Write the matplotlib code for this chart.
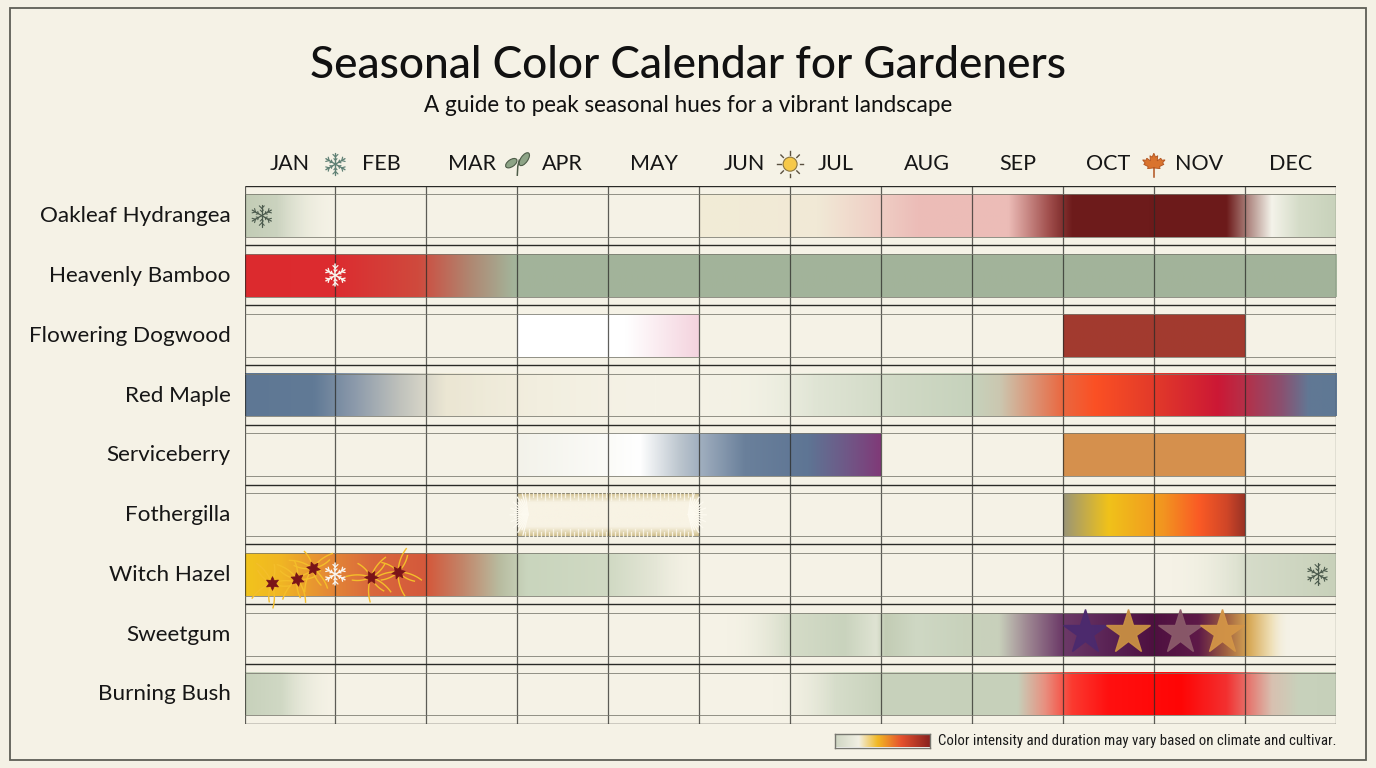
import numpy as np
import matplotlib
matplotlib.use("Agg")
import matplotlib.pyplot as plt
from matplotlib import font_manager
from matplotlib.colors import to_rgb, LinearSegmentedColormap
from matplotlib.patches import Rectangle, Circle, Ellipse, Polygon

# ---------------- data ----------------
months = ["JAN", "FEB", "MAR", "APR", "MAY", "JUN", "JUL", "AUG", "SEP", "OCT", "NOV", "DEC"]
plants = ["Oakleaf Hydrangea", "Heavenly Bamboo", "Flowering Dogwood", "Red Maple",
          "Serviceberry", "Fothergilla", "Witch Hazel", "Sweetgum", "Burning Bush"]

# colour stops per plant: list of segments, each a list of (month position, colour, alpha)
oakleaf_hydrangea = [
    [(0.0, "#c2ccb5", 1), (0.35, "#cbd3bf", 1), (1.0, "#f3f1e4", 0)],
    [(5.0, "#f2ecd6", 1), (6.3, "#f1e9d6", 1), (7.0, "#efcdc4", 1), (7.4, "#ecbdb8", 1),
     (8.4, "#ecbcb7", 1), (8.85, "#a04e4c", 1), (9.1, "#6e1c1c", 1), (10.8, "#6c1a1a", 1),
     (11.05, "#b08a84", 1), (11.3, "#f4f3ea", 1), (11.6, "#d5dcc8", 1), (12.0, "#c8d2bb", 1)],
]
heavenly_bamboo = [
    [(0.0, "#dd2a2e", 1), (1.0, "#dc2c30", 1), (1.9, "#cf4a3d", 1), (2.45, "#b08570", 1),
     (2.95, "#a3b49a", 1), (12.0, "#a2b39a", 1)],
]
flowering_dogwood = [
    [(3.0, "#ffffff", 1), (4.2, "#ffffff", 1), (5.0, "#f4d3de", 1)],
    [(9.0, "#a33a2f", 1), (11.0, "#a23b2f", 1)],
]
red_maple = [
    [(0.0, "#5e7794", 1), (0.75, "#617a96", 1), (1.2, "#8c9aab", 1), (1.7, "#c0c2bc", 1),
     (2.2, "#ebe6d3", 1), (3.2, "#f1eddc", 0.7), (4.5, "#f3f0e2", 0.0), (5.5, "#eef0e2", 0.3),
     (6.3, "#dfe4d4", 1), (7.2, "#d0d9c5", 1), (8.0, "#c6d2bc", 1), (8.3, "#cbc7b0", 1),
     (8.7, "#dd8f70", 1), (9.0, "#ea673f", 1), (9.35, "#fb5024", 1), (10.0, "#e23a2a", 1),
     (10.7, "#cc1835", 1), (11.0, "#b53049", 1), (11.4, "#8a5070", 1), (11.7, "#617895", 1),
     (12.0, "#5f7894", 1)],
]
serviceberry = [
    [(3.0, "#f3f2ea", 1), (4.0, "#fbfbf8", 1), (4.35, "#ffffff", 1), (4.8, "#bac4cd", 1),
     (5.0, "#a2b0c0", 1), (5.5, "#6a809b", 1), (6.2, "#5e7594", 1), (6.6, "#6e5a88", 1),
     (7.0, "#803a78", 1)],
    [(9.0, "#d5904d", 1), (11.0, "#d6914e", 1)],
]
fothergilla = [
    [(9.0, "#9a9577", 1), (9.5, "#f0c21a", 1), (10.1, "#f29520", 1), (10.5, "#fa5a25", 1),
     (10.8, "#d04628", 1), (11.0, "#9a3325", 1)],
]
witch_hazel = [
    [(0.0, "#f2c41c", 1), (0.4, "#f0b524", 1), (0.9, "#e58a35", 1), (1.4, "#d9683c", 1),
     (2.0, "#d4583b", 1), (2.4, "#c2866a", 1), (2.8, "#b8bca0", 1), (3.1, "#c9d5bd", 1),
     (4.0, "#d0d9c3", 1), (4.5, "#e4e6d6", 1), (5.0, "#f3f1e4", 0)],
    [(10.2, "#f3f1e4", 0), (10.9, "#dfe3d2", 1), (11.0, "#d6dcca", 1), (12.0, "#c8d1ba", 1)],
]
sweetgum = [
    [(5.3, "#f3f1e4", 0), (6.0, "#d5dcc8", 1), (6.6, "#c9d3bd", 1), (6.95, "#dfe3d3", 1),
     (7.05, "#c2ccb4", 1), (7.4, "#cfd8c4", 1), (7.9, "#c8d2bc", 1), (8.3, "#c8d0bb", 1),
     (8.6, "#a08a94", 1), (9.0, "#6c3a68", 1), (9.5, "#5a2355", 1), (10.0, "#4e1040", 1),
     (10.5, "#5e1a48", 1), (10.8, "#a06040", 1), (11.05, "#d7a855", 1), (11.3, "#efe0b8", 1),
     (11.5, "#f3f1e4", 0)],
]
burning_bush = [
    [(0.0, "#c7d1bb", 1), (0.4, "#d0d8c4", 1), (1.0, "#f3f1e4", 0)],
    [(5.8, "#f3f1e4", 0), (6.5, "#d6ddca", 1), (7.0, "#c8d2bc", 1), (8.5, "#c6d0ba", 1),
     (8.8, "#e89080", 1), (9.1, "#fb3a30", 1), (9.5, "#ff1010", 1), (10.3, "#ff0505", 1),
     (10.8, "#f33030", 1), (11.3, "#d8c0b0", 1), (11.6, "#c8d2bc", 1), (12.0, "#c6d0ba", 1)],
]
plant_stops = [oakleaf_hydrangea, heavenly_bamboo, flowering_dogwood, red_maple,
               serviceberry, fothergilla, witch_hazel, sweetgum, burning_bush]

# Fothergilla spring bottlebrush bloom (months)
fothergilla_bloom = (3.0, 5.0)

# decorations: (month position, row position)
snowflakes_dark = [(0.19, 0.5), (11.8, 6.5)]
snowflakes_white = [(1.0, 1.5), (1.0, 6.5)]
witch_flowers = [(0.30, 6.65), (0.58, 6.58), (0.75, 6.40), (1.39, 6.55), (1.69, 6.46)]
sweetgum_stars = [9.24, 9.72, 10.29, 10.75]
star_colors = ["#4b2a6e", "#c99043", "#8a5a6a", "#d39547"]
header_icons = {"snow": 1, "sprout": 3, "sun": 6, "leaf": 10}

legend_pos = [0.0, 0.25, 0.45, 0.7, 1.0]
legend_cols = ["#cfd6c3", "#f1efe3", "#f2b824", "#e5502e", "#8a2220"]

title = "Seasonal Color Calendar for Gardeners"
subtitle = "A guide to peak seasonal hues for a vibrant landscape"
footnote = "Color intensity and duration may vary based on climate and cultivar."

# ---------------- fonts ----------------
avail = {f.name for f in font_manager.fontManager.ttflist}
def pick(cands):
    for c in cands:
        if c in avail:
            return c
    return "DejaVu Sans"
MAIN = pick(["Lato", "Open Sans", "Noto Sans", "DejaVu Sans"])
NARROW = pick(["Liberation Sans Narrow", "Roboto Condensed", "Open Sans Condensed", "Lato", "DejaVu Sans"])

BG = "#f4f1e5"
W, H = 1376, 768
fig = plt.figure(figsize=(W / 100, H / 100), dpi=100, facecolor=BG)

# outer frame
frame = fig.add_axes([0, 0, 1, 1], zorder=0)
frame.set_xlim(0, W); frame.set_ylim(0, H); frame.axis("off")
frame.add_patch(Rectangle((10, 8), W - 20, H - 16, fill=True, facecolor="#f5f2e6",
                          edgecolor="#5e5e56", lw=1.3))

GL, GR, GT, GB = 244.5, 1335.7, 185.7, 723.7
ax = fig.add_axes([GL / W, 1 - GB / H, (GR - GL) / W, (GB - GT) / H], zorder=2)
ax.set_xlim(0, 12); ax.set_ylim(9, 0)
ax.axis("off")
ax.patch.set_alpha(0)

BT, BB = 0.144, 0.86  # bar top / bottom offsets inside a row

def seg_image(stops, n=600):
    pos = np.array([s[0] for s in stops])
    rgb = np.array([to_rgb(s[1]) for s in stops])
    al = np.array([s[2] for s in stops], dtype=float)
    xs = np.linspace(pos[0], pos[-1], n)
    img = np.zeros((1, n, 4))
    for k in range(3):
        img[0, :, k] = np.interp(xs, pos, rgb[:, k])
    img[0, :, 3] = np.interp(xs, pos, al)
    return img, pos[0], pos[-1]

for i, segs in enumerate(plant_stops):
    for seg in segs:
        img, x0, x1 = seg_image(seg)
        ax.imshow(img, extent=[x0, x1, i + BB, i + BT], aspect="auto",
                  interpolation="bilinear", zorder=2)

# Fothergilla bottlebrush bar
fr = plants.index("Fothergilla")
fx0, fx1 = fothergilla_bloom
ny, nx = 60, 200
v = np.abs(np.linspace(-1, 1, ny))[:, None]
u = np.abs(np.linspace(-1, 1, nx))[None, :]
tan = np.array(to_rgb("#d0bf8c")); cream = np.array(to_rgb("#f8f3e4"))
mix = np.clip((v - 0.55) / 0.45, 0, 1) ** 1.3
mix = mix * np.ones_like(u)
fimg = np.zeros((ny, nx, 4))
for k in range(3):
    fimg[:, :, k] = cream[k] * (1 - mix) + tan[k] * mix
fimg[:, :, 3] = 1.0
ax.imshow(fimg, extent=[fx0, fx1, fr + BB, fr + BT], aspect="auto", interpolation="bilinear", zorder=2)

ax.set_xlim(0, 12); ax.set_ylim(9, 0)

# grid lines
ax.vlines(np.arange(13), 0, 9, color="#2a2a26", lw=0.9, alpha=0.75, zorder=3)
ax.hlines(np.arange(10), 0, 12, color="#2a2a26", lw=1.0, zorder=3)
rows = np.arange(9)
ax.hlines(np.concatenate([rows + BT, rows + BB]), 0, 12, color="#77776c", lw=0.7, alpha=0.8, zorder=3)

# labels
for i, p in enumerate(plants):
    ax.text(-0.15, i + 0.51, p, ha="right", va="center", fontsize=16.2, family=MAIN,
            color="#161616", clip_on=False)
for j, m in enumerate(months):
    ax.text(j + 0.5, -0.36, m, ha="center", va="center", fontsize=15.5, family=MAIN,
            color="#161616", clip_on=False)

# overlay in pixel coordinates
ov = fig.add_axes([0, 0, 1, 1], zorder=5)
ov.set_xlim(0, W); ov.set_ylim(0, H); ov.axis("off"); ov.patch.set_alpha(0)

def px(x, y):
    return ax.transData.transform((x, y))

def snowflake(x, y, R, color, lw=0.9):
    for k in range(6):
        a = np.deg2rad(90 + 60 * k)
        ov.plot([x, x + R * np.cos(a)], [y, y + R * np.sin(a)], color=color, lw=lw,
                solid_capstyle="round", zorder=6)
        for f, bl in ((0.66, 0.32), (0.36, 0.2)):
            bx, by = x + f * R * np.cos(a), y + f * R * np.sin(a)
            for s in (-1, 1):
                b = a + s * np.deg2rad(45)
                ov.plot([bx, bx + bl * R * np.cos(b)], [by, by + bl * R * np.sin(b)],
                        color=color, lw=lw * 0.85, solid_capstyle="round", zorder=6)

for (mx, ry) in snowflakes_dark:
    x, y = px(mx, ry); snowflake(x, y, 11, "#4b5a4d")
for (mx, ry) in snowflakes_white:
    x, y = px(mx, ry); snowflake(x, y, 11, "#fbf6ee", lw=1.1)

# witch hazel spider flowers
for n_f, (mx, ry) in enumerate(witch_flowers):
    cx, cy = px(mx, ry)
    nstr = 8
    for k in range(nstr):
        a = np.deg2rad(20 + n_f * 17 + k * 360 / nstr)
        L = 25 if k % 2 == 0 else 19
        t = np.linspace(0, 1, 20)
        bend = 0.6 if k % 3 else -0.6
        ang = a + bend * t
        xs = cx + np.cumsum(np.cos(ang)) * L / 20
        ys = cy + np.cumsum(np.sin(ang)) * L / 20
        ov.plot(np.r_[cx, xs], np.r_[cy, ys], color="#f4be2a", lw=1.0, zorder=6)
    ov.plot([cx], [cy], marker=(6, 1, n_f * 10), ms=10, color="#7a1418", zorder=7, mew=0.5)

# sweetgum stars
for sx, sc in zip(sweetgum_stars, star_colors):
    x, y = px(sx, plants.index("Sweetgum") + 0.46)
    ov.plot([x], [y], marker="*", ms=33, color=sc, mec=sc, zorder=6, alpha=0.95)

# fothergilla fringe
ry = fr + 0.5
lx, ly = px(fx0 + 0.12, ry)
rx, _ = px(fx1 - 0.12, ry)
_, ytop = px(fx0, fr + BT)
_, ybot = px(fx0, fr + BB)
for k, ang in enumerate(np.arange(100, 262, 9)):
    a = np.deg2rad(ang); L = 18 if k % 2 else 14
    ov.plot([lx, lx + L * np.cos(a)], [ly, ly + L * np.sin(a) * 1.2], color="#fdfaf0", lw=0.9, zorder=6)
    b = np.deg2rad(180 - ang)
    ov.plot([rx, rx + L * np.cos(b)], [ly, ly + L * np.sin(b) * 1.2], color="#fdfaf0", lw=0.9, zorder=6)
for k, mxx in enumerate(np.arange(fx0 + 0.08, fx1 - 0.05, 0.045)):
    x, _ = px(mxx, ry)
    L = 7 if k % 2 else 4
    ov.plot([x, x], [ytop + 1, ytop - L], color="#fbf7ea", lw=0.9, alpha=0.9, zorder=6)
    ov.plot([x, x], [ybot - 1, ybot + L], color="#fbf7ea", lw=0.9, alpha=0.9, zorder=6)

# header icons
hy = -0.36
x, y = px(header_icons["snow"], hy); snowflake(x, y, 11, "#5f8074", lw=1.0)
x, y = px(header_icons["sun"], hy)
for k in range(8):
    a = np.deg2rad(45 * k)
    ov.plot([x + 9.5 * np.cos(a), x + 13 * np.cos(a)], [y + 9.5 * np.sin(a), y + 13 * np.sin(a)],
            color="#5a5040", lw=1.0, zorder=6)
ov.add_patch(Circle((x, y), 7, facecolor="#f6c94a", edgecolor="#8a7440", lw=0.8, zorder=7))
x, y = px(header_icons["sprout"], hy)
ov.plot([x, x + 0.5, x + 2], [y - 11, y - 2, y + 4], color="#4d5c48", lw=1.1, zorder=6)
ov.add_patch(Ellipse((x - 6, y + 1), 13, 7, angle=35, facecolor="#8da486", edgecolor="#4d5c48", lw=0.8, zorder=7))
ov.add_patch(Ellipse((x + 7, y + 5), 15, 7, angle=55, facecolor="#8da486", edgecolor="#4d5c48", lw=0.8, zorder=7))
x, y = px(header_icons["leaf"], hy)
half = [(0, 1.0), (0.12, 0.72), (0.28, 0.82), (0.24, 0.45), (0.5, 0.64), (0.56, 0.5),
        (0.8, 0.52), (0.62, 0.3), (0.72, 0.2), (0.4, 0.04), (0.45, -0.1), (0.06, -0.06)]
full = half + [(-px_, py_) for (px_, py_) in half[::-1]]
s = 14
ov.add_patch(Polygon([(x + a * s, y + b * s - 3) for a, b in full], closed=True,
                     facecolor="#d9732e", edgecolor="#b0521e", lw=0.6, zorder=7))
ov.plot([x, x], [y - 4, y - 13], color="#b0521e", lw=1.1, zorder=7)

# titles with width fitting
renderer = fig.canvas.get_renderer()
def fitted(xp, yp, txt, target_w, size, ha="center", **kw):
    t = fig.text(xp / W, 1 - yp / H, txt, ha=ha, va="center", fontsize=size, **kw)
    w = t.get_window_extent(renderer=renderer).width
    t.set_fontsize(size * target_w / w)
    return t

fitted(688, 65, title, 756, 32, family=MAIN, weight="medium", color="#111111")
fitted(688, 105, subtitle, 530, 15, family=MAIN, color="#111111")
fitted(938, 741, footnote, 396, 10, ha="left", family=NARROW, color="#1a1a1a")

# legend gradient
lax = fig.add_axes([835 / W, 1 - 747.5 / H, 95 / W, 14 / H], zorder=6)
cmap = LinearSegmentedColormap.from_list("leg", list(zip(legend_pos, legend_cols)))
lax.imshow(np.linspace(0, 1, 256)[None, :], cmap=cmap, aspect="auto", extent=[0, 1, 0, 1])
lax.set_xticks([]); lax.set_yticks([])
for sp in lax.spines.values():
    sp.set_color("#777770"); sp.set_linewidth(1.0)

fig.savefig("out.png", dpi=100, facecolor=BG)
